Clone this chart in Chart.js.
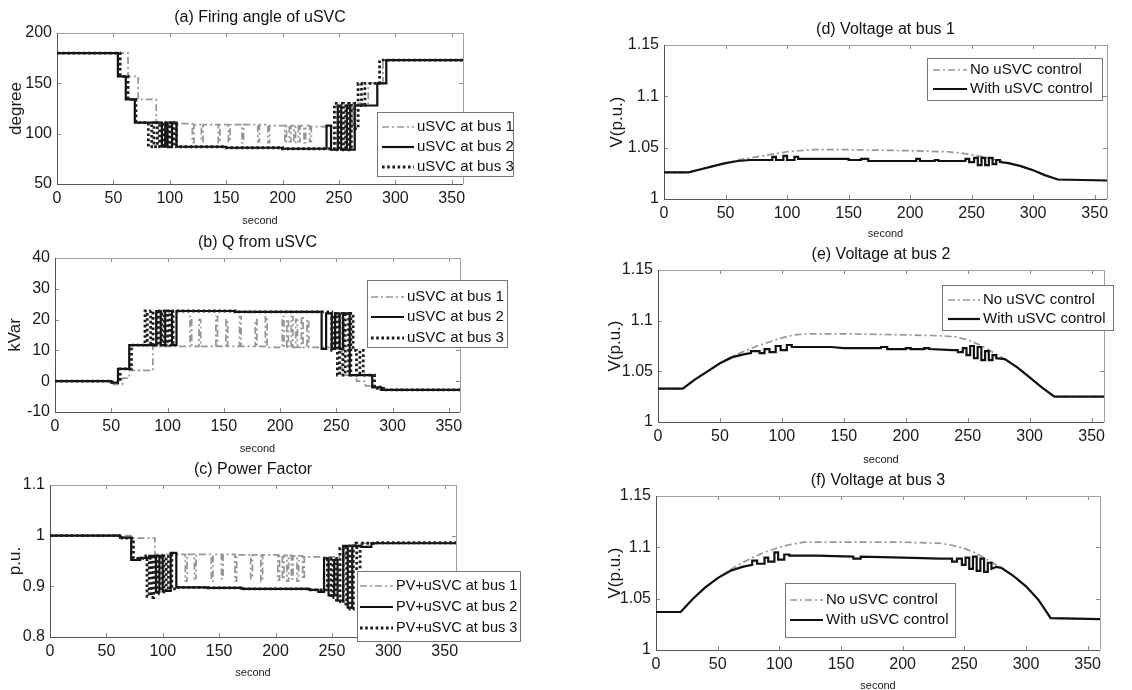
<!DOCTYPE html>
<html><head><meta charset="utf-8">
<script src="https://cdn.jsdelivr.net/npm/chart.js@4.4.0/dist/chart.umd.min.js"></script>
<style>
html,body{margin:0;padding:0;background:#fff;}
#wrap{position:relative;width:1132px;height:690px;overflow:hidden;background:#fff;}
#wrap canvas{position:absolute;left:0;top:0;}
</style></head><body><div id="wrap">
<canvas id="pa" width="1132" height="690"></canvas>
<canvas id="pb" width="1132" height="690"></canvas>
<canvas id="pc" width="1132" height="690"></canvas>
<canvas id="pd" width="1132" height="690"></canvas>
<canvas id="pe" width="1132" height="690"></canvas>
<canvas id="pf" width="1132" height="690"></canvas>
</div>
<script>
// ---------- tick labels ----------
const X_TICKS = [0,50,100,150,200,250,300,350];
const A_Y_TICKS = [50,100,150,200];
const B_Y_TICKS = [-10,0,10,20,30,40];
const C_Y_TICKS = [0.8,0.9,1,1.1];
const V_Y_TICKS = [1,1.05,1.1,1.15];
const BUS_LABELS = ['uSVC at bus 1','uSVC at bus 2','uSVC at bus 3'];
const PF_LABELS = ['PV+uSVC at bus 1','PV+uSVC at bus 2','PV+uSVC at bus 3'];
const V_LABELS = ['No uSVC control','With uSVC control'];

// ---------- (a) firing angle [second, degree] (value holds from that second) ----------
const a_bus1 = [[0,180],[63,157],[72,134],[88,110],[120,91],[121.5,109],[128,92],[129.5,109],[143,91],[144.5,109],[152,92],[153.5,109],[164,91],[165.5,109],[178,92],[179.5,109],[187,91],[188.5,108],[202,91],[203.5,108],[206,92],[207.5,108],[210,91],[211.5,108],[214,92],[215.5,108],[219,91],[220.5,108],[224,92],[225.5,107],[262,130],[276,150],[289,173],[360,172]];
const a_bus2 = [[0,180],[54,157],[61,134],[69,111],[93,87],[96,111],[98,87],[102,111],[106,87],[150,86],[200,85],[239,108],[243,84],[249,128],[252,84],[257,128],[260,84],[264,128],[284,150],[292,173],[360,172]];
const a_bus3 = [[0,180],[56,157],[63,134],[70,111],[81,87],[84,111],[86,87],[89,111],[91,87],[94,111],[96,87],[99,111],[101,87],[104,111],[106,87],[150,86],[200,85],[246,130],[249,84],[251,130],[254,84],[256,130],[259,84],[261,130],[264,105],[267,150],[270,128],[273,150],[286,173],[360,172]];

// ---------- (b) Q from uSVC [second, kVar] ----------
const b_bus1 = [[0,0],[52,-1],[60,1],[66,3.5],[87,11.3],[120,21],[121.5,11.3],[128,20],[129.5,11.3],[143,21],[144.5,11.3],[152,20],[153.5,11.3],[164,21],[165.5,11.3],[178,20],[179.5,11.3],[187,21],[188.5,11],[202,21],[203.5,11],[206,20],[207.5,11],[210,21],[211.5,11],[214,20],[215.5,11],[219,21],[220.5,11],[224,20],[225.5,11],[255,2],[268,0],[276,-1.5],[289,-2.8],[360,-2.8]];
const b_bus2 = [[0,0],[50,-0.5],[56,4],[66,11.7],[90,22.8],[94,11.7],[98,22.8],[104,11.7],[108,22.8],[160,22.5],[237,10.5],[241,22],[246,10.5],[249,22],[253,10.5],[256,22],[262,2],[282,-2],[290,-2.8],[360,-2.8]];
const b_bus3 = [[0,0],[50,-0.3],[58,4],[68,11.7],[80,22.8],[82,11.7],[85,22.8],[87,11.7],[90,22.8],[92,11.7],[95,22.8],[97,11.7],[100,22.8],[102,11.7],[105,22.8],[160,22.5],[246,10],[248,22],[251,2],[253,22],[256,2],[258,22],[261,2],[263,22],[265,10],[268,2],[271,10],[274,2],[284,-2.3],[292,-2.8],[360,-2.8]];

// ---------- (c) power factor [second, p.u.] ----------
const c_bus1 = [[0,1.0],[74,0.995],[93,0.963],[120,0.91],[121.5,0.963],[128,0.915],[129.5,0.963],[143,0.91],[144.5,0.963],[152,0.915],[153.5,0.963],[164,0.91],[165.5,0.962],[178,0.915],[179.5,0.962],[187,0.91],[188.5,0.962],[202,0.912],[203.5,0.961],[206,0.915],[207.5,0.961],[210,0.91],[211.5,0.961],[214,0.915],[215.5,0.96],[219,0.91],[220.5,0.96],[224,0.915],[225.5,0.958],[262,0.98],[276,0.985],[360,0.985]];
const c_bus2 = [[0,1.0],[62,0.996],[72,0.952],[80,0.956],[88,0.96],[94,0.889],[97,0.96],[100,0.891],[107,0.966],[112,0.898],[140,0.897],[170,0.895],[200,0.895],[230,0.893],[238,0.889],[243,0.955],[247,0.882],[252,0.952],[255,0.872],[260,0.98],[264,0.858],[268,0.98],[276,0.978],[285,0.985],[360,0.984]];
const c_bus3 = [[0,1.0],[64,0.995],[74,0.955],[85,0.96],[86,0.88],[88,0.955],[90,0.878],[92,0.957],[94,0.885],[96,0.96],[99,0.889],[101,0.96],[103,0.892],[105,0.962],[108,0.895],[112,0.898],[140,0.897],[170,0.895],[200,0.895],[230,0.893],[246,0.955],[249,0.878],[251,0.955],[254,0.87],[257,0.975],[260,0.865],[263,0.98],[266,0.855],[269,0.985],[272,0.935],[275,0.985],[287,0.986],[360,0.985]];

// ---------- (d) voltage at bus 1 [second, V p.u.] ----------
const d_no = [[0,1.026],[20,1.026],[30,1.029],[40,1.032],[50,1.035],[60,1.038],[70,1.040],[80,1.042],[90,1.044],[100,1.046],[110,1.047],[120,1.048],[150,1.048],[200,1.047],[230,1.046],[240,1.045],[250,1.043],[260,1.041],[270,1.038],[280,1.035],[290,1.032],[300,1.028],[310,1.023],[320,1.019],[360,1.018]];
const d_with = [[0,1.026],[20,1.026],[30,1.029],[40,1.032],[50,1.035],[60,1.037],[70,1.038],[88,1.038],[88,1.041],[91,1.041],[91,1.038],[97,1.038],[97,1.042],[100,1.042],[100,1.038],[106,1.038],[106,1.041],[109,1.041],[109,1.039],[150,1.039],[150,1.038],[160,1.038],[160,1.039],[166,1.039],[166,1.037],[205,1.037],[205,1.039],[208,1.039],[208,1.037],[220,1.037],[220,1.038],[223,1.038],[223,1.037],[245,1.037],[245,1.039],[248,1.039],[248,1.036],[252,1.036],[252,1.040],[255,1.040],[255,1.033],[258,1.033],[258,1.040],[261,1.040],[261,1.033],[264,1.033],[264,1.040],[267,1.040],[267,1.034],[270,1.034],[270,1.038],[273,1.038],[273,1.036],[280,1.035],[290,1.032],[300,1.028],[310,1.023],[320,1.019],[360,1.018]];

// ---------- (e) voltage at bus 2 ----------
const e_no = [[0,1.033],[20,1.033],[30,1.042],[40,1.050],[50,1.058],[60,1.065],[70,1.070],[80,1.075],[90,1.079],[100,1.083],[110,1.086],[120,1.087],[150,1.087],[200,1.086],[230,1.085],[240,1.084],[250,1.081],[260,1.076],[270,1.069],[280,1.062],[290,1.054],[300,1.044],[310,1.034],[320,1.025],[360,1.025]];
const e_with = [[0,1.033],[20,1.033],[30,1.042],[40,1.050],[50,1.058],[60,1.064],[70,1.067],[75,1.068],[75,1.070],[82,1.070],[82,1.068],[86,1.068],[86,1.072],[90,1.072],[90,1.069],[95,1.069],[95,1.075],[99,1.075],[99,1.071],[104,1.071],[104,1.076],[108,1.076],[108,1.074],[140,1.074],[150,1.073],[180,1.073],[180,1.074],[185,1.074],[185,1.072],[200,1.072],[200,1.073],[204,1.073],[204,1.072],[215,1.072],[215,1.073],[219,1.073],[219,1.072],[238,1.071],[242,1.071],[242,1.069],[246,1.069],[246,1.073],[249,1.073],[249,1.066],[252,1.066],[252,1.075],[255,1.075],[255,1.063],[258,1.063],[258,1.074],[261,1.074],[261,1.061],[264,1.061],[264,1.070],[267,1.070],[267,1.061],[270,1.061],[270,1.066],[273,1.066],[273,1.063],[280,1.062],[290,1.054],[300,1.044],[310,1.034],[320,1.025],[360,1.025]];

// ---------- (f) voltage at bus 3 ----------
const f_no = [[0,1.037],[20,1.037],[30,1.050],[40,1.061],[50,1.070],[60,1.078],[70,1.085],[80,1.091],[90,1.096],[100,1.100],[110,1.103],[120,1.105],[150,1.105],[200,1.105],[230,1.104],[240,1.102],[250,1.099],[260,1.094],[270,1.087],[280,1.080],[290,1.072],[300,1.062],[310,1.049],[320,1.031],[360,1.030]];
const f_with = [[0,1.037],[20,1.037],[30,1.050],[40,1.061],[50,1.070],[60,1.077],[70,1.081],[78,1.083],[78,1.087],[82,1.087],[82,1.084],[88,1.084],[88,1.090],[91,1.090],[91,1.086],[96,1.086],[96,1.095],[99,1.095],[99,1.088],[104,1.088],[104,1.093],[108,1.093],[108,1.092],[130,1.092],[160,1.091],[160,1.089],[166,1.089],[166,1.091],[200,1.090],[230,1.089],[240,1.089],[240,1.086],[244,1.086],[244,1.089],[248,1.089],[248,1.083],[251,1.083],[251,1.090],[254,1.090],[254,1.079],[257,1.079],[257,1.091],[260,1.091],[260,1.077],[263,1.077],[263,1.089],[266,1.089],[266,1.076],[269,1.076],[269,1.085],[272,1.085],[272,1.079],[276,1.081],[280,1.080],[290,1.072],[300,1.062],[310,1.049],[320,1.031],[360,1.030]];

// ---------- styles ----------
const FONT = "'Liberation Sans', Arial, Helvetica, sans-serif";
Chart.defaults.font.family = FONT;
Chart.defaults.color = '#1a1a1a';
const STY = {
  dashdot: {borderColor:'#969696', borderWidth:1.7, borderDash:[7,3,2,3]},
  solid:   {borderColor:'#111111', borderWidth:2.2, borderDash:[]},
  dotted:  {borderColor:'#1c1c1c', borderWidth:2.8, borderDash:[2.6,2.6]}
};

const innerTicks = {
  id:'innerTicks',
  beforeDatasetsDraw(chart){
    const {ctx, chartArea:{left,right,top,bottom}, scales:{x,y}} = chart;
    ctx.save();
    ctx.lineWidth = 1;
    ctx.strokeStyle = '#8a8a8a';
    const seg=(a,b,c,d)=>{ctx.beginPath();ctx.moveTo(a,b);ctx.lineTo(c,d);ctx.stroke();};
    x.ticks.forEach(tk=>{const p=Math.round(x.getPixelForValue(tk.value))+0.5; seg(p,bottom,p,bottom-4); seg(p,top,p,top+4);});
    y.ticks.forEach(tk=>{const p=Math.round(y.getPixelForValue(tk.value))+0.5; seg(left,p,left+4,p); seg(right,p,right-4,p);});
    ctx.strokeStyle = '#a0a0a0';
    seg(left, Math.round(top)+0.5, right, Math.round(top)+0.5);
    seg(Math.round(right)+0.5, top, Math.round(right)+0.5, bottom);
    ctx.strokeStyle = '#555';
    seg(Math.round(left)+0.5, top, Math.round(left)+0.5, bottom);
    seg(left, Math.round(bottom)+0.5, right, Math.round(bottom)+0.5);
    ctx.restore();
  }
};

const boxLegend = {
  id:'boxLegend',
  afterDatasetsDraw(chart, args, o){
    if(!o || !o.box) return;
    const {ctx} = chart;
    const [x1,y1,x2,y2] = o.box;
    ctx.save();
    ctx.fillStyle = '#fff';
    ctx.fillRect(x1,y1,x2-x1,y2-y1);
    ctx.strokeStyle = '#777'; ctx.lineWidth = 1;
    ctx.strokeRect(x1+0.5,y1+0.5,x2-x1,y2-y1);
    chart.data.datasets.forEach((ds,i)=>{
      const yy = o.rows[i];
      ctx.beginPath();
      ctx.strokeStyle = ds.borderColor; ctx.lineWidth = ds.borderWidth;
      ctx.setLineDash(ds.borderDash||[]);
      ctx.moveTo(o.sample[0], yy); ctx.lineTo(o.sample[1], yy); ctx.stroke();
      ctx.setLineDash([]);
      ctx.fillStyle = '#111';
      ctx.font = o.size + 'px ' + FONT;
      ctx.textBaseline = 'middle'; ctx.textAlign = 'left';
      ctx.fillText(ds.label, o.textX, yy);
    });
    ctx.restore();
  }
};

function panel(id, cfg){
  const [l,t,r,b] = cfg.rect;
  const tlh = 16*1.2;
  const padTop = cfg.titleY - tlh/2;
  const ylh = cfg.ySize*1.2;
  const padLeft = cfg.yTitleX - ylh/2;
  const xlh = 11*1.2;
  const xH = cfg.xTitleY + xlh/2 - b;
  const padBottom = 690 - b - xH;
  const datasets = cfg.series.map(s=>Object.assign({
    label:s.label,
    data:s.data.map(p=>({x:p[0], y:p[1]})),
    stepped: s.stepped ? 'before' : false,
    pointRadius:0, fill:false, tension:0, order:s.order
  }, STY[s.style]));
  new Chart(document.getElementById(id), {
    type:'line',
    data:{datasets},
    options:{
      responsive:false, animation:false, events:[],
      layout:{padding:{left:padLeft, top:padTop, right:1132-r, bottom:padBottom}},
      plugins:{
        legend:{display:false}, tooltip:{enabled:false},
        title:{display:true, text:cfg.title, fullSize:false, color:'#111',
               font:{size:16, weight:'normal'}, padding:{top:0, bottom:t-padTop-tlh}},
        boxLegend: cfg.legend
      },
      scales:{
        x:{type:'linear', min:0, max:360,
           afterBuildTicks:s=>{s.ticks = X_TICKS.map(v=>({value:v}));},
           afterFit:s=>{s.height = xH;},
           grid:{display:false, drawTicks:false}, border:{display:false},
           ticks:{font:{size:cfg.tickSize}, color:'#1a1a1a', padding:5, maxRotation:0, autoSkip:false, callback:v=>String(v)},
           title:{display:true, text:'second', font:{size:11}, color:'#1a1a1a', padding:0}},
        y:{type:'linear', min:cfg.yTicks[0], max:cfg.yTicks[cfg.yTicks.length-1],
           afterBuildTicks:s=>{s.ticks = cfg.yTicks.map(v=>({value:v}));},
           afterFit:s=>{s.width = l - padLeft;},
           grid:{display:false, drawTicks:false}, border:{display:false},
           ticks:{font:{size:cfg.tickSize}, color:'#1a1a1a', padding:5, callback:v=>String(v)},
           title:{display:true, text:cfg.yTitle, font:{size:cfg.ySize}, color:'#1a1a1a', padding:0}}
      }
    },
    plugins:[innerTicks, boxLegend]
  });
}

function busSeries(d1,d2,d3,labels){
  return [
    {label:labels[0], data:d1, style:'dashdot', stepped:true, order:2},
    {label:labels[1], data:d2, style:'solid', stepped:true, order:1},
    {label:labels[2], data:d3, style:'dotted', stepped:true, order:0}
  ];
}
function vSeries(dn,dw){
  return [
    {label:V_LABELS[0], data:dn, style:'dashdot', stepped:false, order:1},
    {label:V_LABELS[1], data:dw, style:'solid', stepped:false, order:0}
  ];
}

panel('pa', {rect:[57,33,463,184], title:'(a) Firing angle of uSVC', titleY:18, yTitle:'degree', yTitleX:16, ySize:17, xTitleY:221, tickSize:16,
  yTicks:A_Y_TICKS, series:busSeries(a_bus1,a_bus2,a_bus3,BUS_LABELS),
  legend:{box:[377,112,513,176], rows:[127,147,167], sample:[382,414], textX:417, size:15}});
panel('pb', {rect:[55,258,460,412], title:'(b) Q from uSVC', titleY:243, yTitle:'kVar', yTitleX:15, ySize:17, xTitleY:449, tickSize:16,
  yTicks:B_Y_TICKS, series:busSeries(b_bus1,b_bus2,b_bus3,BUS_LABELS),
  legend:{box:[367,280,507,347], rows:[297,317,338], sample:[371,404], textX:407, size:15}});
panel('pc', {rect:[50,485,456,637], title:'(c) Power Factor', titleY:470, yTitle:'p.u.', yTitleX:15, ySize:17, xTitleY:673, tickSize:16,
  yTicks:C_Y_TICKS, series:busSeries(c_bus1,c_bus2,c_bus3,PF_LABELS),
  legend:{box:[357,571,520,641], rows:[586,607,628], sample:[360,393], textX:396, size:14.5}});
panel('pd', {rect:[664,45,1107,199], title:'(d) Voltage at bus 1', titleY:30, yTitle:'V(p.u.)', yTitleX:617, ySize:17, xTitleY:234, tickSize:16,
  yTicks:V_Y_TICKS, series:vSeries(d_no,d_with),
  legend:{box:[927,58,1102,100], rows:[70,89], sample:[933,967], textX:970, size:15}});
panel('pe', {rect:[658,270,1104,422], title:'(e) Voltage at bus 2', titleY:255, yTitle:'V(p.u.)', yTitleX:615, ySize:17, xTitleY:460, tickSize:16,
  yTicks:V_Y_TICKS, series:vSeries(e_no,e_with),
  legend:{box:[942,285,1113,330], rows:[300,319], sample:[948,980], textX:983, size:15}});
panel('pf', {rect:[656,496,1100,650], title:'(f) Voltage at bus 3', titleY:481, yTitle:'V(p.u.)', yTitleX:615, ySize:17, xTitleY:686, tickSize:16,
  yTicks:V_Y_TICKS, series:vSeries(f_no,f_with),
  legend:{box:[785,583,955,637], rows:[600,620], sample:[790,823], textX:826, size:15}});
</script>
</body></html>
